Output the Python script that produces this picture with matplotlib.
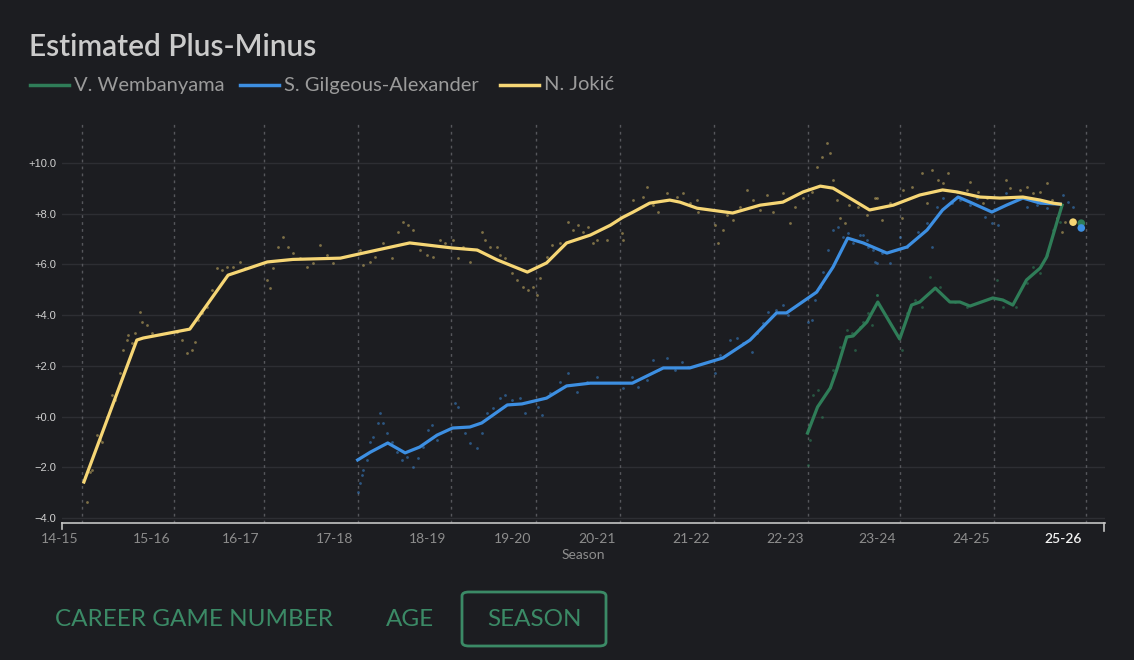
import numpy as np
import matplotlib
matplotlib.use('Agg')
import matplotlib.pyplot as plt
from matplotlib.lines import Line2D
from matplotlib.patches import FancyBboxPatch
import matplotlib.transforms as mtransforms

# x axis is in "seasons" (0 = start of the 14-15 label line)
season_labels = ['14-15', '15-16', '16-17', '17-18', '18-19', '19-20',
                 '20-21', '21-22', '22-23', '23-24', '24-25', '25-26']
season_ticks = [0.0, 1.01, 1.99, 3.02, 4.04, 4.97, 5.89, 6.92, 7.95, 8.96, 9.99, 11.0]
y_ticks = [-4, -2, 0, 2, 4, 6, 8, 10]
y_tick_labels = ['\u22124.0', '\u22122.0', '+0.0', '+2.0', '+4.0', '+6.0', '+8.0', '+10.0']

# smoothed lines
jokic_x = [0.02, 0.60, 0.67, 1.18, 1.60, 2.03, 2.31, 2.83, 3.08, 3.59, 4.06, 4.33, 4.55, 4.88,
           5.09, 5.31, 5.57, 5.79, 5.92, 6.04, 6.22, 6.44, 6.55, 6.74, 7.13, 7.43, 7.68, 7.90,
           8.09, 8.23, 8.45, 8.63, 8.89, 9.18, 9.43, 9.59, 9.84, 10.06, 10.31, 10.50, 10.64, 10.72]
jokic_y = [-2.58, 3.02, 3.10, 3.45, 5.58, 6.10, 6.20, 6.25, 6.45, 6.85, 6.65, 6.57, 6.18, 5.70,
           6.06, 6.85, 7.16, 7.55, 7.85, 8.07, 8.42, 8.54, 8.46, 8.22, 8.03, 8.34, 8.46, 8.86,
           9.09, 9.01, 8.54, 8.15, 8.34, 8.74, 8.94, 8.86, 8.66, 8.62, 8.66, 8.54, 8.42, 8.38]

sga_x = [3.02, 3.16, 3.35, 3.54, 3.70, 3.89, 4.06, 4.25, 4.38, 4.66, 4.82, 5.09, 5.31, 5.57,
         5.79, 6.03, 6.37, 6.66, 7.02, 7.32, 7.61, 7.72, 8.05, 8.23, 8.39, 8.56, 8.82, 9.04,
         9.26, 9.43, 9.60, 9.73, 9.97, 10.13, 10.31, 10.50, 10.72]
sga_y = [-1.71, -1.40, -1.04, -1.43, -1.20, -0.73, -0.45, -0.41, -0.25, 0.46, 0.50, 0.73, 1.21, 1.32,
         1.32, 1.32, 1.92, 1.92, 2.31, 3.02, 4.09, 4.09, 4.91, 5.90, 7.04, 6.85, 6.45, 6.69,
         7.36, 8.15, 8.66, 8.46, 8.07, 8.34, 8.62, 8.42, 8.38]

wemby_x = [7.95, 8.06, 8.20, 8.27, 8.38, 8.45, 8.60, 8.72, 8.96, 9.09, 9.18, 9.35, 9.51, 9.62,
           9.73, 9.98, 10.09, 10.20, 10.35, 10.50, 10.57, 10.68, 10.74]
wemby_y = [-0.65, 0.38, 1.13, 1.84, 3.14, 3.18, 3.73, 4.52, 3.06, 4.40, 4.52, 5.07, 4.52, 4.52,
           4.36, 4.68, 4.60, 4.40, 5.39, 5.86, 6.29, 7.63, 8.34]

# per-game points
jokic_pts_x = [0.05, 0.03, 0.09, 0.11, 0.16, 0.20, 0.22, 0.27, 0.33, 0.36, 0.42, 0.45, 0.49, 0.50,
               0.55, 0.58, 0.64, 0.66, 0.71, 0.77, 1.04, 1.10, 1.15, 1.21, 1.24, 1.27, 1.31, 1.37,
               1.42, 1.48, 1.53, 1.59, 1.65, 1.73, 1.79, 2.03, 2.06, 2.09, 2.15, 2.20, 2.26, 2.31,
               2.39, 2.47, 2.53, 2.61, 2.68, 2.75, 3.05, 3.08, 3.16, 3.21, 3.30, 3.40, 3.46, 3.52,
               3.57, 3.63, 3.70, 3.78, 3.85, 3.92, 3.98, 4.06, 4.12, 4.17, 4.25, 4.33, 4.38, 4.42,
               4.47, 4.55, 4.58, 4.63, 4.71, 4.77, 4.83, 4.89, 4.94, 4.99, 5.02, 5.09, 5.15, 5.24,
               5.32, 5.38, 5.43, 5.49, 5.54, 5.60, 5.64, 5.75, 5.92, 5.93, 6.04, 6.15, 6.19, 6.26,
               6.31, 6.41, 6.52, 6.58, 6.66, 6.74, 6.75, 6.94, 6.97, 7.02, 7.07, 7.13, 7.21, 7.29,
               7.35, 7.43, 7.51, 7.57, 7.68, 7.76, 7.81, 7.90, 8.00, 8.05, 8.11, 8.16, 8.20, 8.23,
               8.27, 8.31, 8.36, 8.41, 8.50, 8.60, 8.71, 8.69, 8.77, 8.85, 8.98, 9.00, 9.10, 9.20,
               9.26, 9.31, 9.38, 9.43, 9.49, 9.59, 9.70, 9.73, 9.82, 9.87, 9.92, 10.13, 10.17, 10.28,
               10.35, 10.42, 10.50, 10.57, 10.63, 10.68, 10.74, 10.77]
jokic_pts_y = [-3.37, -2.38, -2.18, -2.10, -0.73, -0.92, -1.00, 0.00, 0.85, 0.65, 1.72, 2.63, 3.02, 3.20,
               2.90, 3.30, 4.12, 3.73, 3.60, 3.30, 3.34, 3.02, 2.51, 2.63, 2.94, 3.81, 4.09, 4.32,
               4.99, 5.86, 5.78, 5.90, 5.90, 6.10, 5.86, 5.39, 5.07, 5.86, 6.69, 7.08, 6.69, 6.45,
               6.25, 5.90, 6.06, 6.77, 6.37, 6.06, 6.57, 5.98, 6.10, 6.29, 6.85, 6.25, 7.28, 7.67,
               7.55, 7.36, 6.57, 6.37, 6.29, 6.96, 6.85, 6.96, 6.25, 6.69, 6.10, 6.57, 7.28, 6.96,
               6.69, 6.69, 6.37, 6.25, 5.66, 5.39, 5.11, 4.99, 5.11, 4.80, 5.47, 6.29, 6.77, 6.85,
               7.67, 7.36, 7.55, 7.28, 7.48, 6.85, 6.96, 6.96, 7.24, 6.96, 8.54, 8.66, 9.05, 8.34,
               8.07, 8.82, 8.66, 8.82, 8.42, 8.54, 8.07, 7.55, 6.85, 7.36, 7.95, 7.75, 8.27, 8.94,
               8.54, 8.15, 8.74, 8.07, 8.82, 7.63, 8.27, 8.62, 8.86, 9.84, 10.24, 10.79, 10.39, 9.33,
               8.54, 7.83, 7.63, 8.34, 8.27, 7.95, 8.62, 8.62, 7.75, 8.42, 7.83, 8.94, 9.05, 9.61,
               8.42, 9.72, 9.33, 9.21, 9.61, 8.86, 8.94, 9.25, 8.86, 8.42, 8.62, 9.33, 9.01, 8.94,
               9.05, 8.82, 8.86, 9.21, 8.54, 7.83, 7.28, 7.67]

sga_pts_x = [3.02, 3.05, 3.07, 3.08, 3.12, 3.16, 3.19, 3.24, 3.27, 3.30, 3.34, 3.40, 3.45, 3.51,
             3.56, 3.63, 3.68, 3.74, 3.79, 3.83, 3.89, 4.09, 4.12, 4.16, 4.20, 4.25, 4.33, 4.38,
             4.44, 4.50, 4.58, 4.63, 4.71, 4.80, 4.85, 5.00, 5.04, 5.13, 5.24, 5.32, 5.42, 5.53,
             5.64, 5.93, 6.03, 6.09, 6.19, 6.26, 6.31, 6.41, 6.50, 6.57, 6.64, 6.94, 6.99, 7.10,
             7.18, 7.24, 7.34, 7.40, 7.46, 7.52, 7.61, 7.68, 7.74, 7.95, 8.00, 8.03, 8.09, 8.12,
             8.17, 8.23, 8.28, 8.34, 8.39, 8.45, 8.52, 8.60, 8.67, 8.71, 8.56, 8.61, 8.69, 8.77,
             8.85, 8.96, 9.04, 9.16, 9.26, 9.31, 9.37, 9.43, 9.53, 9.62, 9.73, 9.81, 9.89, 9.97,
             10.04, 10.13, 10.24, 10.35, 10.46, 10.57, 10.75, 10.80, 10.86]
sga_pts_y = [-2.97, -2.62, -2.30, -2.10, -1.71, -1.00, -0.80, -0.25, 0.14, -0.25, -0.65, -1.00, -1.40, -1.71,
             -1.59, -1.99, -1.63, -1.20, -0.53, -0.33, -0.92, 0.54, 0.38, -0.41, -0.65, -1.04, -1.24, -0.65,
             0.14, 0.34, 0.73, 0.85, 0.65, 0.73, 0.14, 0.38, 0.06, 0.93, 1.36, 1.72, 0.97, 1.36,
             1.56, 1.13, 1.56, 1.17, 1.44, 2.23, 1.84, 2.31, 1.84, 2.15, 1.96, 1.72, 2.43, 3.02,
             3.10, 2.90, 2.55, 3.30, 3.69, 4.12, 4.20, 4.40, 4.01, 3.73, 3.81, 4.60, 5.11, 5.70,
             6.57, 7.36, 7.48, 7.08, 7.24, 6.85, 7.16, 6.96, 6.57, 6.06, 7.16, 6.69, 6.10, 6.45,
             6.06, 7.08, 6.69, 7.28, 7.63, 6.69, 8.27, 8.62, 8.42, 8.54, 8.34, 8.62, 7.87, 7.63,
             7.55, 8.82, 8.54, 8.27, 8.34, 8.22, 8.74, 8.46, 8.27]

wemby_pts_x = [7.95, 7.98, 8.01, 8.06, 8.11, 8.20, 8.23, 8.31, 8.38, 8.44, 8.47, 8.52, 8.61, 8.71,
               8.56, 8.66, 8.71, 8.98, 9.04, 9.13, 9.21, 9.29, 9.40, 9.57, 9.70, 10.03, 10.09, 10.24,
               10.35, 10.42, 10.50, 10.57, 10.64, 10.72]
wemby_pts_y = [-1.91, -0.92, 0.85, 1.05, 0.00, 1.17, 1.84, 2.74, 3.41, 3.30, 2.63, 3.53, 4.09, 4.80,
               3.73, 3.61, 4.80, 2.63, 4.09, 4.60, 4.32, 5.50, 5.11, 4.52, 4.32, 5.39, 4.32, 4.32,
               5.27, 5.90, 5.66, 6.37, 7.36, 7.67]

# latest values (end markers)
end_x = [10.86, 10.95, 10.95]
end_y = [7.67, 7.63, 7.44]

bg = '#1c1d21'
c_jokic = '#f6d675'
c_sga = '#3d8fe2'
c_wemby = '#2f7d58'
c_btn = '#3b8a66'
font = ['Lato', 'DejaVu Sans']

fig = plt.figure(figsize=(11.34, 6.6), dpi=100, facecolor=bg)
ax = fig.add_axes([62 / 1134, 1 - 523 / 660, (1105 - 62) / 1134, (523 - 122) / 660])
ax.set_facecolor(bg)
ax.set_xlim(-0.22, 11.21)
ax.set_ylim(-4.196, 11.62)

for y in y_ticks:
    ax.axhline(y, color='#2d2e33', lw=1, zorder=0)
for x in season_ticks:
    ax.axvline(x, color='#56575c', lw=1, ls=(0, (2, 3)), zorder=0)

ax.scatter(jokic_pts_x, jokic_pts_y, s=4, marker='o', color=c_jokic, alpha=0.45, lw=0, zorder=2)
ax.scatter(sga_pts_x, sga_pts_y, s=4, marker='o', color=c_sga, alpha=0.5, lw=0, zorder=2)
ax.scatter(wemby_pts_x, wemby_pts_y, s=4, marker='o', color=c_wemby, alpha=0.6, lw=0, zorder=2)

ax.plot(wemby_x, wemby_y, color=c_wemby, lw=2.3, zorder=3, solid_joinstyle='round')
ax.plot(sga_x, sga_y, color=c_sga, lw=2.3, zorder=4, solid_joinstyle='round')
ax.plot(jokic_x, jokic_y, color=c_jokic, lw=2.3, zorder=5, solid_joinstyle='round')

ax.scatter(end_x, end_y, s=30, color=[c_jokic, c_wemby, c_sga], zorder=6, lw=0)

for s in ['top', 'right', 'left']:
    ax.spines[s].set_visible(False)
ax.spines['bottom'].set_color('#c4c4c4')
ax.spines['bottom'].set_linewidth(1.2)

ax.set_yticks(y_ticks)
ax.set_yticklabels(y_tick_labels, fontsize=8, color='#d0d0d0', family=['Liberation Sans'])
ax.tick_params(axis='y', length=0, pad=4)

ax.set_xticks(season_ticks)
ax.set_xticklabels(season_labels, fontsize=10, color='#8d8d8d', family=font)
ax.tick_params(axis='x', length=0, pad=7)
off = mtransforms.ScaledTranslation(-4 / 100, 0, fig.dpi_scale_trans)
for lbl in ax.get_xticklabels():
    lbl.set_horizontalalignment('right')
    lbl.set_transform(lbl.get_transform() + off)
cur = ax.get_xticklabels()[-1]
cur.set_color('#f2f2f2')
cur.set_fontweight('semibold')

ax.set_xlabel('Season', fontsize=10, color='#8d8d8d', family=font, labelpad=3)

# spine end ticks
fig.add_artist(Line2D([62 / 1134, 62 / 1134], [1 - 523 / 660, 1 - 529 / 660], color='#c4c4c4', lw=1.2))
fig.add_artist(Line2D([1104 / 1134, 1104 / 1134], [1 - 523 / 660, 1 - 531 / 660], color='#c4c4c4', lw=1.2))

# title and legend
fig.text(29 / 1134, 1 - 47 / 660, 'Estimated Plus-Minus', fontsize=21.5, color='#cbcbcb',
         fontweight='semibold', family=font, va='center')
legend = [('V. Wembanyama', c_wemby, 30), ('S. Gilgeous-Alexander', c_sga, 240), ('N. Joki\u0107', c_jokic, 500)]
for name, col, px in legend:
    fig.add_artist(Line2D([px / 1134, (px + 39) / 1134], [1 - 85 / 660, 1 - 85 / 660], color=col, lw=2.5))
    fig.text((px + 44) / 1134, 1 - 85 / 660, name, fontsize=14.5, color='#9b9b9b', family=font, va='center')

# view switch buttons
fig.text(55 / 1134, 1 - 619 / 660, 'CAREER GAME NUMBER', fontsize=17.5, color=c_btn, family=font, va='center')
fig.text(386 / 1134, 1 - 619 / 660, 'AGE', fontsize=17.5, color=c_btn, family=font, va='center')
fig.text(534 / 1134, 1 - 619 / 660, 'SEASON', fontsize=17.5, color=c_btn, family=font, va='center', ha='center')
fig.add_artist(FancyBboxPatch((462 / 1134, 1 - 646 / 660), 144 / 1134, 54 / 660,
                              boxstyle='round,pad=0,rounding_size=0.006', transform=fig.transFigure,
                              fill=False, ec=c_btn, lw=2))

fig.savefig('out.png', dpi=100, facecolor=bg)
